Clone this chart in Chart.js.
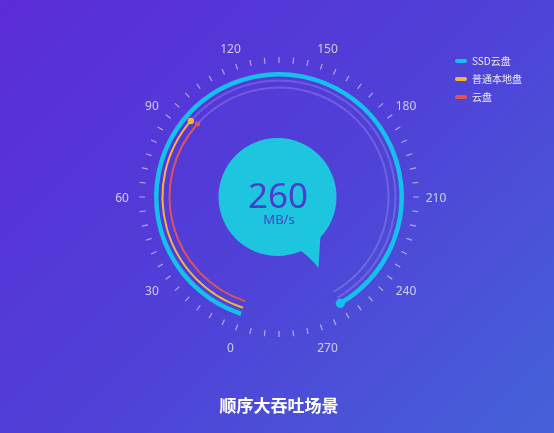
<!DOCTYPE html>
<html>
<head>
<meta charset="utf-8">
<script src="https://cdn.jsdelivr.net/npm/chart.js@4.4.1/dist/chart.umd.min.js"></script>
<style>
  html, body { margin: 0; padding: 0; }
  body {
    width: 554px;
    height: 433px;
    overflow: hidden;
    background: linear-gradient(135deg, #5b2cd8 0%, #5040d7 50%, #4562d9 100%);
  }
  #wrap { position: relative; width: 554px; height: 433px; }
</style>
</head>
<body>
<div id="wrap"><canvas id="gauge"></canvas></div>
<script>
const seriesNames = ["SSD云盘", "普通本地盘", "云盘"];
const seriesValues = [260, 94, 95];
const seriesColors = ["#16c0ec", "#f5b53c", "#dd5559"];
const trackEnd = 260;   // faint track stops here
const fullTurn = 300;   // 0..270 scale + 30 units of opening at the bottom
const tickLabels = ["0", "30", "60", "90", "120", "150", "180", "210", "240", "270"];
const minorPerMajor = 6;
const unitText = "MB/s";
const titleText = "顺序大吞吐场景";

const startDeg = 198;
const trackColor = "rgba(185, 175, 255, 0.28)";
const ringWeights = [4.5, 2, 2];
const gapWeights = [3, 5];
const dotRadii = [4.6, 3.2, 2.6];
const latin = '"Noto Sans", "Noto Sans CJK SC", sans-serif';
const cjk = '"Noto Sans CJK SC", "Noto Sans", sans-serif';

// one scale label per minor tick, text only on the majors
const scaleLabels = [];
tickLabels.forEach((t) => {
  scaleLabels.push(t);
  for (let k = 1; k < minorPerMajor; k++) scaleLabels.push("");
});

const datasets = [];
const seriesRing = [];
seriesValues.forEach((v, i) => {
  if (i > 0) {
    datasets.push({
      data: [1],
      backgroundColor: ["rgba(0,0,0,0)"],
      borderWidth: 0,
      weight: gapWeights[i - 1],
    });
  }
  seriesRing.push(datasets.length);
  datasets.push({
    label: seriesNames[i],
    data: [v, trackEnd - v, fullTurn - trackEnd],
    backgroundColor: [seriesColors[i], trackColor, "rgba(0,0,0,0)"],
    borderWidth: 0,
    weight: ringWeights[i],
  });
});

const gaugeDecor = {
  id: "gaugeDecor",
  beforeDatasetsDraw(chart) {
    const { ctx } = chart;
    const arc = chart.getDatasetMeta(0).data[0];
    const bx = arc.x - 1.5;
    const by = arc.y;
    ctx.save();
    ctx.fillStyle = "#1dc6de";
    ctx.beginPath();
    ctx.arc(bx, by, 59, 0, Math.PI * 2);
    ctx.fill();
    // speech bubble tail
    ctx.beginPath();
    ctx.moveTo(bx + 18, by + 50);
    ctx.quadraticCurveTo(bx + 33, by + 60, bx + 41, by + 71);
    ctx.lineTo(bx + 43, by + 38);
    ctx.closePath();
    ctx.fill();
    ctx.restore();
  },
  afterDatasetsDraw(chart) {
    const { ctx } = chart;
    const scale = chart.scales.r;
    ctx.save();

    // round heads at the end of each value arc
    seriesRing.forEach((di, i) => {
      const a = chart.getDatasetMeta(di).data[0];
      const rm = (a.innerRadius + a.outerRadius) / 2;
      ctx.fillStyle = seriesColors[i];
      ctx.beginPath();
      ctx.arc(a.x + Math.cos(a.endAngle) * rm, a.y + Math.sin(a.endAngle) * rm, dotRadii[i], 0, Math.PI * 2);
      ctx.fill();
    });

    // scale numbers
    ctx.fillStyle = "rgba(255,255,255,0.72)";
    ctx.font = "12px " + latin;
    ctx.textAlign = "center";
    ctx.textBaseline = "middle";
    scaleLabels.forEach((lbl, i) => {
      if (!lbl) return;
      const p = scale.getPointPosition(i, 157);
      ctx.fillText(lbl, p.x, p.y + 2);
    });

    // big reading in the bubble
    const arc = chart.getDatasetMeta(0).data[0];
    ctx.fillStyle = "#4b3ccc";
    ctx.textBaseline = "alphabetic";
    ctx.font = "35px " + latin;
    ctx.fillText(String(seriesValues[0]), arc.x - 1, arc.y + 11);
    ctx.font = "13px " + latin;
    ctx.fillText(unitText, arc.x, arc.y + 26.5);
    ctx.restore();
  },
};

new Chart(document.getElementById("gauge"), {
  type: "doughnut",
  data: { labels: ["value", "track", "opening"], datasets },
  options: {
    responsive: true,
    maintainAspectRatio: false,
    animation: false,
    events: [],
    rotation: startDeg,
    circumference: 360,
    radius: 125,
    cutout: "86.8%",
    layout: { padding: { left: 111, right: 27, top: 48, bottom: 0 } },
    scales: {
      r: {
        type: "radialLinear",
        labels: scaleLabels,
        startAngle: startDeg,
        min: 0,
        max: 1,
        ticks: { display: false },
        grid: { display: false },
        pointLabels: { display: false },
        angleLines: {
          display: true,
          color: "rgba(255,255,255,0.55)",
          lineWidth: 1.2,
          borderDash: [0, 134, 6, 1000],
        },
      },
    },
    plugins: {
      tooltip: { enabled: false },
      legend: {
        position: "right",
        align: "start",
        maxWidth: 80,
        onClick: null,
        labels: {
          boxWidth: 12,
          boxHeight: 4,
          padding: 8,
          color: "#eeeaff",
          font: { size: 10, family: cjk },
          generateLabels: () =>
            seriesNames.map((name, i) => ({
              text: name,
              fillStyle: seriesColors[i],
              strokeStyle: seriesColors[i],
              fontColor: "#eeeaff",
              lineWidth: 0,
              borderRadius: 2,
              hidden: false,
              datasetIndex: seriesRing[i],
            })),
        },
      },
      title: {
        display: true,
        text: titleText,
        position: "bottom",
        fullSize: false,
        color: "#ffffff",
        font: { size: 17, family: cjk, weight: "bold", lineHeight: 1 },
        padding: { top: 51.5, bottom: 18.5 },
      },
    },
  },
  plugins: [gaugeDecor],
});
</script>
</body>
</html>
